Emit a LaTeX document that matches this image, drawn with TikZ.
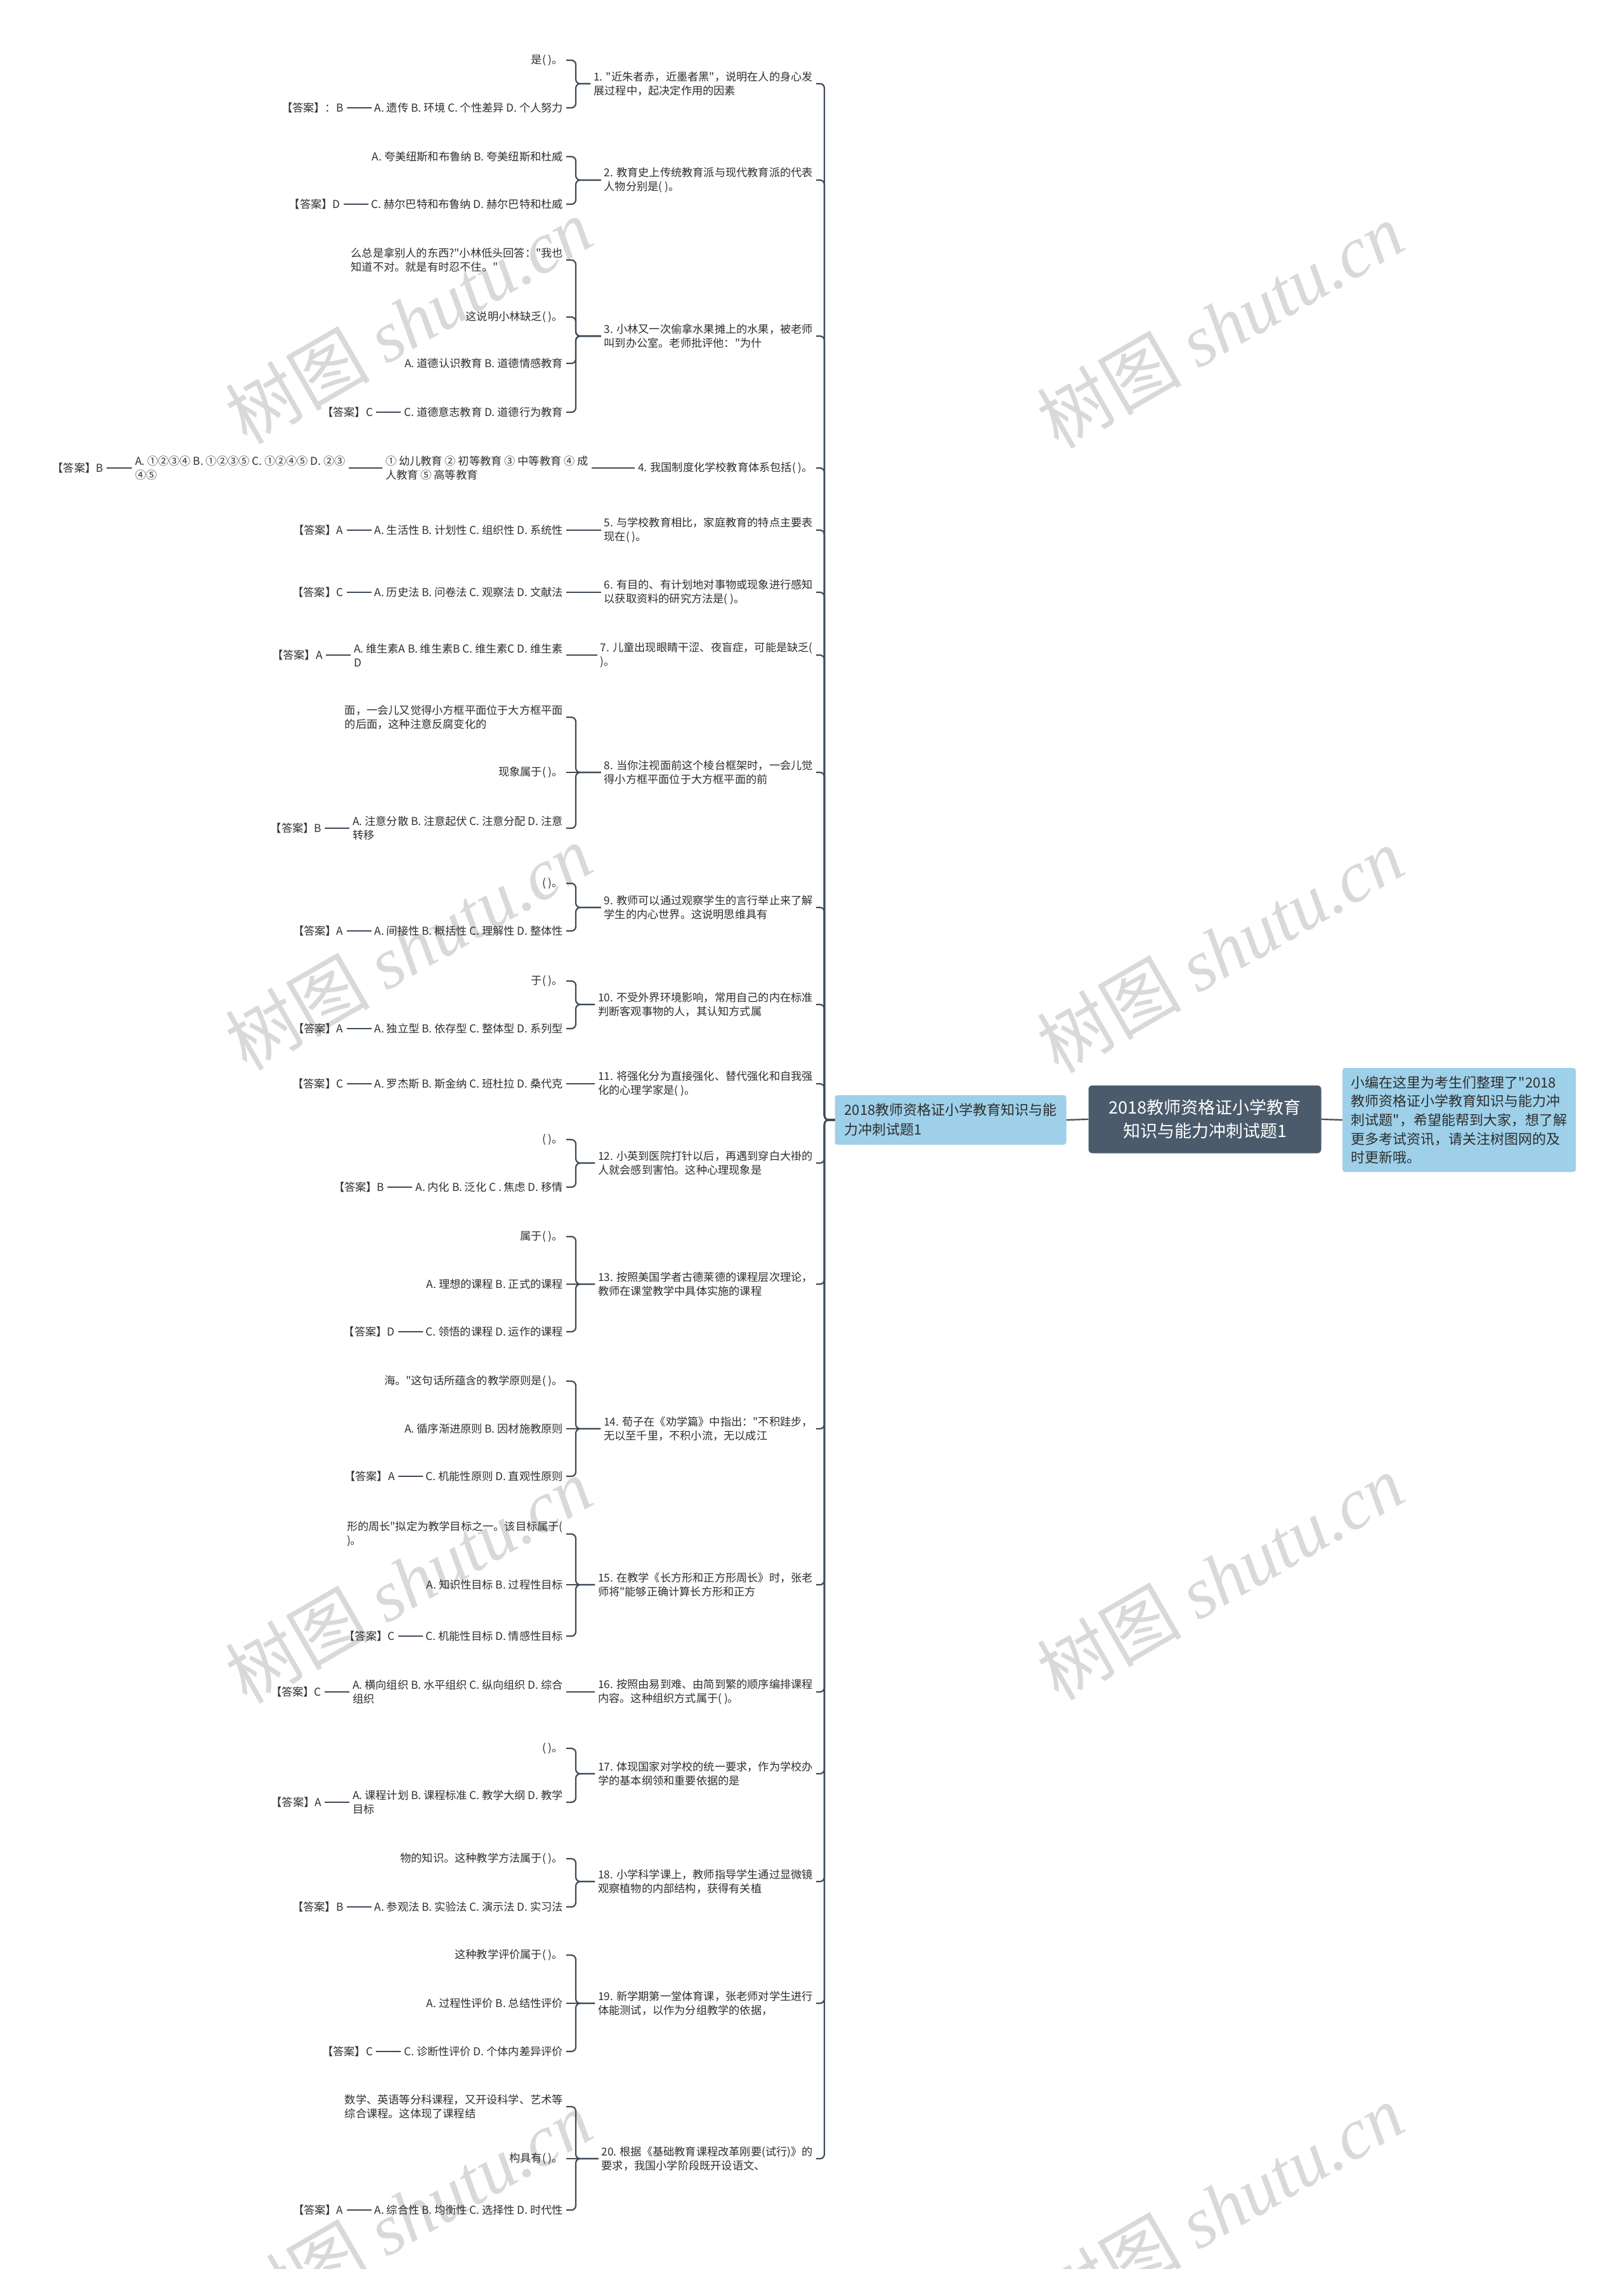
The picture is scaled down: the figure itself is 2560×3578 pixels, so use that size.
\documentclass[tikz,border=0pt]{standalone}
\usepackage{fontspec}
\setmainfont{Noto Sans CJK SC}[Ligatures=TeXOff]
\newfontfamily\wmlatin{Liberation Serif}
\usetikzlibrary{positioning}
\definecolor{lc}{HTML}{3E4A57}
\definecolor{txt}{HTML}{2E2E2E}
\definecolor{rootfill}{HTML}{4C5B6B}
\definecolor{bluefill}{HTML}{9ED0E9}
\definecolor{wmc}{HTML}{D9D9D9}
\begin{document}
\begin{tikzpicture}[x=1pt,y=-1pt,
  t/.style={font=\fontsize{17.2}{22}\selectfont, text=txt, inner xsep=5pt, inner ysep=2pt, align=left, anchor=east},
  ln/.style={draw=lc, line width=2.2pt},
  br/.style={ln, rounded corners=7pt},
  wm/.style={text=wmc, font=\fontsize{114}{114}\selectfont, rotate=30, inner sep=0pt},
  node distance=39pt]
\fill[white] (0,0) rectangle (2560,3578);
\useasboundingbox (0,0) rectangle (2560,3578);

% watermarks
\foreach \wx/\wy [count=\i] in {644/506, 1924/513, 644/1494, 1924/1498, 644/2492, 1924/2487, 644/3491, 1924/3480}
  \node[wm] (wm\i) at (\wx,\wy) {树图 {\wmlatin\itshape shutu.cn}};

\coordinate (mx) at (1300,0);
\coordinate (sx) at (908,0);

% root, first level, note
\node[fill=rootfill, rounded corners=6pt, minimum width=367pt, minimum height=107pt, text=white, align=center, font=\fontsize{27}{37}\selectfont] (root) at (1900,1765) {2018教师资格证小学教育\\知识与能力冲刺试题1};
\node[fill=bluefill, rounded corners=4pt, minimum width=365pt, minimum height=78pt, text=txt, align=left, font=\fontsize{22}{31}\selectfont] (l1) at (1499,1766) {2018教师资格证小学教育知识与能\\力冲刺试题1};
\node[fill=bluefill, rounded corners=4pt, minimum width=368pt, minimum height=164pt, text=txt, align=left, font=\fontsize{22}{29.7}\selectfont] (note) at (2301,1766) {小编在这里为考生们整理了"2018\\教师资格证小学教育知识与能力冲\\刺试题"，希望能帮到大家，想了解\\更多考试资讯，请关注树图网的及\\时更新哦。};
\draw[ln] (root.west) -- (l1.east);
\draw[ln] (root.east) -- (note.west);

% questions
\node[t] (q1) at (1287,132) {1. "近朱者赤，近墨者黑"，说明在人的身心发\\展过程中，起决定作用的因素};
\node[t] (q2) at (1287,284) {2. 教育史上传统教育派与现代教育派的代表\\人物分别是( )。};
\node[t] (q3) at (1287,530) {3. 小林又一次偷拿水果摊上的水果，被老师\\叫到办公室。老师批评他："为什};
\node[t] (q4) at (1287,738) {4. 我国制度化学校教育体系包括( )。};
\node[t] (q5) at (1287,836) {5. 与学校教育相比，家庭教育的特点主要表\\现在( )。};
\node[t] (q6) at (1287,934) {6. 有目的、有计划地对事物或现象进行感知\\以获取资料的研究方法是( )。};
\node[t] (q7) at (1287,1033) {7. 儿童出现眼睛干涩、夜盲症，可能是缺乏(\\)。};
\node[t] (q8) at (1287,1218) {8. 当你注视面前这个棱台框架时，一会儿觉\\得小方框平面位于大方框平面的前};
\node[t] (q9) at (1287,1431) {9. 教师可以通过观察学生的言行举止来了解\\学生的内心世界。这说明思维具有};
\node[t] (q10) at (1287,1584) {10. 不受外界环境影响，常用自己的内在标准\\判断客观事物的人，其认知方式属};
\node[t] (q11) at (1287,1709) {11. 将强化分为直接强化、替代强化和自我强\\化的心理学家是( )。};
\node[t] (q12) at (1287,1834) {12. 小英到医院打针以后，再遇到穿白大褂的\\人就会感到害怕。这种心理现象是};
\node[t] (q13) at (1287,2025) {13. 按照美国学者古德莱德的课程层次理论，\\教师在课堂教学中具体实施的课程};
\node[t] (q14) at (1287,2253) {14. 荀子在《劝学篇》中指出："不积跬步，\\无以至千里，不积小流，无以成江};
\node[t] (q15) at (1287,2499) {15. 在教学《长方形和正方形周长》时，张老\\师将"能够正确计算长方形和正方};
\node[t] (q16) at (1287,2668) {16. 按照由易到难、由简到繁的顺序编排课程\\内容。这种组织方式属于( )。};
\node[t] (q17) at (1287,2797) {17. 体现国家对学校的统一要求，作为学校办\\学的基本纲领和重要依据的是};
\node[t] (q18) at (1287,2967) {18. 小学科学课上，教师指导学生通过显微镜\\观察植物的内部结构，获得有关植};
\node[t] (q19) at (1287,3159) {19. 新学期第一堂体育课，张老师对学生进行\\体能测试，以作为分组教学的依据，};
\node[t] (q20) at (1287,3404) {20. 根据《基础教育课程改革刚要(试行)》的\\要求，我国小学阶段既开设语文、};

\foreach \q in {q1,q2,q3,q4,q5,q6,q7,q8,q9,q10,q11,q12,q13,q14,q15,q16,q17,q18,q19,q20}
  \draw[br] (l1.west) -- (l1.west -| mx) |- (\q.east);

% children
\node[t] (o1a) at (893,95) {是( )。};
\node[t] (o1b) at (893,170) {A. 遗传 B. 环境 C. 个性差异 D. 个人努力};
\node[t, left=of o1b] (a1) {【答案】：B};

\node[t] (o2a) at (893,247) {A. 夸美纽斯和布鲁纳 B. 夸美纽斯和杜威};
\node[t] (o2b) at (893,322) {C. 赫尔巴特和布鲁纳 D. 赫尔巴特和杜威};
\node[t, left=of o2b] (a2) {【答案】D};

\node[t] (o3a) at (893,410) {么总是拿别人的东西?"小林低头回答："我也\\知道不对。就是有时忍不住。"};
\node[t] (o3b) at (893,500) {这说明小林缺乏( )。};
\node[t] (o3c) at (893,573) {A. 道德认识教育 B. 道德情感教育};
\node[t] (o3d) at (893,650) {C. 道德意志教育 D. 道德行为教育};
\node[t, left=of o3d] (a3) {【答案】C};

\node[t, anchor=west] (o4a) at (603,738) {① 幼儿教育 ② 初等教育 ③ 中等教育 ④ 成\\人教育 ⑤ 高等教育};
\node[t, anchor=west] (o4b) at (208,738) {A. ①②③④ B. ①②③⑤ C. ①②④⑤ D. ②③\\④⑤};
\node[t, left=40pt of o4b] (a4) {【答案】B};

\node[t] (o5) at (893,836) {A. 生活性 B. 计划性 C. 组织性 D. 系统性};
\node[t, left=of o5] (a5) {【答案】A};

\node[t] (o6) at (893,934) {A. 历史法 B. 问卷法 C. 观察法 D. 文献法};
\node[t, left=of o6] (a6) {【答案】C};

\node[t] (o7) at (893,1033) {A. 维生素A B. 维生素B C. 维生素C D. 维生素\\D};
\node[t, left=of o7] (a7) {【答案】A};

\node[t] (o8a) at (893,1131) {面，一会儿又觉得小方框平面位于大方框平面\\的后面，这种注意反腐变化的};
\node[t] (o8b) at (893,1218) {现象属于( )。};
\node[t] (o8c) at (893,1306) {A. 注意分散 B. 注意起伏 C. 注意分配 D. 注意\\转移};
\node[t, left=of o8c] (a8) {【答案】B};

\node[t] (o9a) at (893,1393) {( )。};
\node[t] (o9b) at (893,1468) {A. 间接性 B. 概括性 C. 理解性 D. 整体性};
\node[t, left=of o9b] (a9) {【答案】A};

\node[t] (o10a) at (893,1547) {于( )。};
\node[t] (o10b) at (893,1622) {A. 独立型 B. 依存型 C. 整体型 D. 系列型};
\node[t, left=of o10b] (a10) {【答案】A};

\node[t] (o11) at (893,1709) {A. 罗杰斯 B. 斯金纳 C. 班杜拉 D. 桑代克};
\node[t, left=of o11] (a11) {【答案】C};

\node[t] (o12a) at (893,1797) {( )。};
\node[t] (o12b) at (893,1872) {A. 内化 B. 泛化 C . 焦虑 D. 移情};
\node[t, left=of o12b] (a12) {【答案】B};

\node[t] (o13a) at (893,1950) {属于( )。};
\node[t] (o13b) at (893,2025) {A. 理想的课程 B. 正式的课程};
\node[t] (o13c) at (893,2100) {C. 领悟的课程 D. 运作的课程};
\node[t, left=of o13c] (a13) {【答案】D};

\node[t] (o14a) at (893,2178) {海。"这句话所蕴含的教学原则是( )。};
\node[t] (o14b) at (893,2253) {A. 循序渐进原则 B. 因材施教原则};
\node[t] (o14c) at (893,2328) {C. 机能性原则 D. 直观性原则};
\node[t, left=of o14c] (a14) {【答案】A};

\node[t] (o15a) at (893,2419) {形的周长"拟定为教学目标之一。该目标属于(\\)。};
\node[t] (o15b) at (893,2499) {A. 知识性目标 B. 过程性目标};
\node[t] (o15c) at (893,2580) {C. 机能性目标 D. 情感性目标};
\node[t, left=of o15c] (a15) {【答案】C};

\node[t] (o16) at (893,2668) {A. 横向组织 B. 水平组织 C. 纵向组织 D. 综合\\组织};
\node[t, left=of o16] (a16) {【答案】C};

\node[t] (o17a) at (893,2757) {( )。};
\node[t] (o17b) at (893,2842) {A. 课程计划 B. 课程标准 C. 教学大纲 D. 教学\\目标};
\node[t, left=of o17b] (a17) {【答案】A};

\node[t] (o18a) at (893,2931) {物的知识。这种教学方法属于( )。};
\node[t] (o18b) at (893,3007) {A. 参观法 B. 实验法 C. 演示法 D. 实习法};
\node[t, left=of o18b] (a18) {【答案】B};

\node[t] (o19a) at (893,3083) {这种教学评价属于( )。};
\node[t] (o19b) at (893,3159) {A. 过程性评价 B. 总结性评价};
\node[t] (o19c) at (893,3235) {C. 诊断性评价 D. 个体内差异评价};
\node[t, left=of o19c] (a19) {【答案】C};

\node[t] (o20a) at (893,3322) {数学、英语等分科课程，又开设科学、艺术等\\综合课程。这体现了课程结};
\node[t] (o20b) at (893,3404) {构具有( )。};
\node[t] (o20c) at (893,3485) {A. 综合性 B. 均衡性 C. 选择性 D. 时代性};
\node[t, left=of o20c] (a20) {【答案】A};

% sub brackets
\foreach \q/\c in {q1/o1a, q1/o1b, q2/o2a, q2/o2b, q3/o3a, q3/o3b, q3/o3c, q3/o3d,
  q8/o8a, q8/o8c, q9/o9a, q9/o9b, q10/o10a, q10/o10b, q12/o12a, q12/o12b,
  q13/o13a, q13/o13c, q14/o14a, q14/o14c, q15/o15a, q15/o15c, q17/o17a, q17/o17b,
  q18/o18a, q18/o18b, q19/o19a, q19/o19c, q20/o20a, q20/o20c}
  \draw[br] (\q.west) -- (\q.west -| sx) |- (\c.east);

% straight connections
\foreach \a/\b in {q4/o4a, o4a/o4b, q5/o5, q6/o6, q7/o7, q11/o11, q16/o16,
  q8/o8b, q13/o13b, q14/o14b, q15/o15b, q19/o19b, q20/o20b}
  \draw[ln] (\a.west) -- (\b.east);

% answers
\foreach \o/\a in {o1b/a1, o2b/a2, o3d/a3, o4b/a4, o5/a5, o6/a6, o7/a7, o8c/a8, o9b/a9, o10b/a10,
  o11/a11, o12b/a12, o13c/a13, o14c/a14, o15c/a15, o16/a16, o17b/a17, o18b/a18, o19c/a19, o20c/a20}
  \draw[ln] (\o.west) -- (\a.east);
\end{tikzpicture}
\end{document}
